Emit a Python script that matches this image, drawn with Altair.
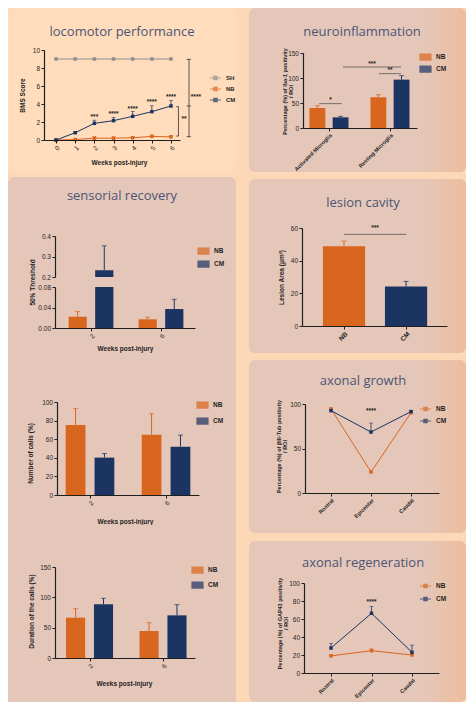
import json
import altair as alt
import pandas as pd

ORANGE = "#d8661f"
NAVY = "#1c3462"
GREY = "#8e8e8e"
PANEL = "#e5c7ba"
PANEL_EDGE = "#ecbd9c"
PAGE = "#fcd8b6"
LOCO_BG = "#fedcbc"
TITLE_C = "#4c5575"
INK = "#1e1e1e"
FONT = "Liberation Sans"
TFONT = "Open Sans"
LW, RW = 228, 217

# ---------------- data ----------------
weeks = [0, 1, 2, 3, 4, 5, 6]
bms_sh = [9, 9, 9, 9, 9, 9, 9]
bms_nb = [0.0, 0.05, 0.2, 0.2, 0.25, 0.4, 0.35]
bms_nb_err = [0.0, 0.05, 0.15, 0.15, 0.15, 0.15, 0.15]
bms_cm = [0.0, 0.81, 1.85, 2.15, 2.63, 3.15, 3.78]
bms_cm_err = [0.0, 0.1, 0.35, 0.35, 0.55, 0.65, 0.6]
bms_star_weeks = [2, 3, 4, 5, 6]
bms_star_text = ["***", "****", "****", "****", "****"]
bms_star_y = [2.6, 2.9, 3.45, 4.2, 4.8]
bms_br_x = [6.39, 6.94]
bms_br_lo = [0.44, 0.37]
bms_br_hi = [3.7, 8.96]
bms_br_text = ["**", "****"]
bms_br_tx = [6.68, 7.3]
bms_br_ty = [2.3, 4.8]
bms_br_ticks = [[0.44, 3.7], [0.37, 3.78, 8.96]]

groups = ["NB", "CM"]

micro_cats = ["Activated Microglia", "Resting Microglia"]
micro_nb = [40.0, 61.3]
micro_nb_err = [4.7, 5.4]
micro_cm = [21.3, 96.7]
micro_cm_err = [2.0, 8.0]
micro_sig_x1 = [-0.16, 0.82, 0.23]
micro_sig_x2 = [0.21, 1.18, 1.18]
micro_sig_y = [48.7, 108.7, 122.0]
micro_sig_text = ["*", "**", "***"]

sens_weeks = ["2", "6"]
thr_nb = [0.022, 0.017]
thr_nb_err = [0.010, 0.004]
thr_cm = [0.233, 0.037]
thr_cm_err = [0.119, 0.019]

calls_nb = [75.4, 64.8]
calls_nb_err = [17.5, 22.7]
calls_cm = [40.2, 52.0]
calls_cm_err = [4.3, 12.4]

dur_nb = [66.5, 44.5]
dur_nb_err = [14.8, 13.7]
dur_cm = [88.5, 70.3]
dur_cm_err = [9.9, 17.6]

lesion_cats = ["NB", "CM"]
lesion_val = [48.8, 24.2]
lesion_err = [3.2, 3.1]
lesion_sig_y = 56.1
lesion_sig_text = "***"

regions = ["Rostral", "Epicenter", "Caudal"]
tub_nb = [94.4, 23.6, 90.2]
tub_nb_err = [1.0, 2.0, 1.0]
tub_cm = [92.5, 68.5, 91.4]
tub_cm_err = [1.5, 10.0, 1.5]
tub_star = "****"
tub_star_y = 92.0

gap_nb = [19.0, 24.8, 20.0]
gap_nb_err = [1.5, 2.0, 1.5]
gap_cm = [27.8, 66.3, 23.0]
gap_cm_err = [5.0, 7.5, 8.0]
gap_star = "****"
gap_star_y = 79.0

# ---------------- helpers ----------------
def one():
    return alt.Data(values=[{"k": 0}])


GRAD = {
    "gradient": "linear", "x1": 0, "x2": 1, "y1": 0, "y2": 0,
    "stops": [
        {"offset": 0, "color": PANEL},
        {"offset": 0.8, "color": PANEL},
        {"offset": 1, "color": PANEL_EDGE},
    ],
}


def panel_rect(w, y0, y1, fill, rt=6, rb=6):
    return alt.Chart(one()).mark_rect(
        fill=fill, cornerRadiusTopLeft=rt, cornerRadiusTopRight=rt,
        cornerRadiusBottomLeft=rb, cornerRadiusBottomRight=rb,
    ).encode(x=alt.value(0), x2=alt.value(w), y=alt.value(y0), y2=alt.value(y1))


def panel_title(text, cx, cy):
    return alt.Chart(one()).mark_text(
        font=TFONT, fontSize=13, color=TITLE_C, align="center", baseline="middle"
    ).encode(x=alt.value(cx), y=alt.value(cy), text=alt.value(text))


def x_axis(values, offset, title, tx, ty, labels=None, size=6.5, bold=False):
    kw = dict(values=values, offset=offset, title=title, titleX=tx, titleY=ty,
              titleAngle=0, titleAlign="center", titleBaseline="middle",
              labelAngle=315, zindex=1, labelFlush=False, labelOverlap=False,
              labelFontSize=size, labelFontWeight="bold" if bold else "normal")
    if labels is not None:
        kw["labelExpr"] = json.dumps(labels) + "[datum.value]"
    return alt.Axis(**kw)


def y_axis(values, offset, title, tx, ty, fmt=None, tsize=6.5):
    kw = dict(values=values, offset=offset, titleX=tx, titleY=ty,
              titleAngle=270, titleAlign="center", titleBaseline="middle",
              zindex=1, labelFlush=False, labelOverlap=False, orient="left",
              titleFontSize=tsize, titleLineHeight=tsize + 1)
    kw["title"] = title
    if fmt:
        kw["format"] = fmt
    return alt.Axis(**kw)


BAR_SYM = "M-1,-0.55H1V0.55H-1Z"
LINE_SYM = "M-1,0H1M-0.3,-0.3H0.3V0.3H-0.3Z"


def legend(x, y, sym, size=121, rowpad=1, fs=6.5):
    return alt.Legend(orient="none", legendX=x, legendY=y, title=None, direction="vertical",
                      symbolType=sym, symbolSize=size, rowPadding=rowpad,
                      labelFontSize=fs, symbolStrokeWidth=1.2)


def group_scale(domain, rng):
    return alt.Scale(domain=domain, range=rng)


def bar_rows(nb, nb_err, cm, cm_err, off=0.19, hw=0.13):
    rows = []
    for g, vals, errs, s in (("NB", nb, nb_err, -1), ("CM", cm, cm_err, 1)):
        for i, (v, e) in enumerate(zip(vals, errs)):
            c = i + s * off
            rows.append(dict(g=g, xc=c, x0=c - hw, x1=c + hw, v=v, top=v + e, base=0.0))
    return pd.DataFrame(rows)


def bar_layers(df, xs, xa, ys, ya, cs, lg, base_col="base"):
    col = alt.Color("g:N", scale=cs, legend=lg)
    bars = alt.Chart(df).mark_bar().encode(
        x=alt.X("x0:Q", scale=xs, axis=xa), x2="x1:Q",
        y=alt.Y("v:Q", scale=ys, axis=ya), y2=alt.Y2(base_col + ":Q"), color=col)
    err = alt.Chart(df).mark_rule(strokeWidth=1).encode(
        x=alt.X("xc:Q", scale=xs, axis=xa), y=alt.Y("v:Q", scale=ys, axis=ya),
        y2="top:Q", color=col)
    cap = alt.Chart(df).mark_tick(orient="horizontal", size=5, thickness=1).encode(
        x=alt.X("xc:Q", scale=xs, axis=xa), y=alt.Y("top:Q", scale=ys, axis=ya), color=col)
    return [bars, err, cap]


def line_rows(nb, nb_err, cm, cm_err):
    rows = []
    for g, vals, errs in (("NB", nb, nb_err), ("CM", cm, cm_err)):
        for i, (v, e) in enumerate(zip(vals, errs)):
            rows.append(dict(g=g, x=i, v=v, top=v + e))
    return pd.DataFrame(rows)


def line_layers(df, xs, xa, ys, ya, cs, lg):
    col = alt.Color("g:N", scale=cs, legend=lg)
    X = alt.X("x:Q", scale=xs, axis=xa)
    line = alt.Chart(df).mark_line(strokeWidth=1).encode(x=X, y=alt.Y("v:Q", scale=ys, axis=ya), color=col)
    err = alt.Chart(df).mark_rule(strokeWidth=0.8).encode(x=X, y=alt.Y("v:Q", scale=ys, axis=ya), y2="top:Q", color=col)
    cap = alt.Chart(df).mark_tick(orient="horizontal", size=4, thickness=0.8).encode(
        x=X, y=alt.Y("top:Q", scale=ys, axis=ya), color=col)
    pts = alt.Chart(df).mark_point(shape="square", filled=True, size=12, opacity=1).encode(
        x=X, y=alt.Y("v:Q", scale=ys, axis=ya), color=col)
    return [line, err, cap, pts]


def star_text(df, xs, xa, ys, ya, size=7):
    return alt.Chart(df).mark_text(font=FONT, fontSize=size, fontWeight="bold", color=INK,
                                   baseline="middle").encode(
        x=alt.X("x:Q", scale=xs, axis=xa), y=alt.Y("y:Q", scale=ys, axis=ya), text="t:N")


def qs(domain, rng):
    return alt.Scale(domain=domain, range=rng, nice=False, zero=False)


NBCM = group_scale(groups, [ORANGE, NAVY])

# ---------------- locomotor performance ----------------
H = 169
xs = qs([-0.63, 6.47], [36, 172])
ys = qs([0, 10], [132, 42])
xa = x_axis(weeks, 132 - H, "Weeks post-injury", 111, 22)
ya = y_axis([0, 2, 4, 6, 8, 10], -36, "BMS Score", -22, 87)
rows = []
for g, vals, errs in (("SH", bms_sh, [0] * 7), ("NB", bms_nb, bms_nb_err), ("CM", bms_cm, bms_cm_err)):
    for w, v, e in zip(weeks, vals, errs):
        rows.append(dict(g=g, x=w, v=v, top=v + e))
loco_df = pd.DataFrame(rows)
loco_cs = group_scale(["SH", "NB", "CM"], [GREY, ORANGE, NAVY])
loco_lg = legend(201, 63.5, LINE_SYM, size=121, rowpad=0, fs=6)
loco_layers = line_layers(loco_df, xs, xa, ys, ya, loco_cs, loco_lg)
stars = pd.DataFrame(dict(x=bms_star_weeks, y=bms_star_y, t=bms_star_text))
br_v = pd.DataFrame(dict(x=bms_br_x, y=bms_br_lo, y2=bms_br_hi))
tk = []
for bx, ticks in zip(bms_br_x, bms_br_ticks):
    for ty in ticks:
        tk.append(dict(x=bx - 0.12, x2=bx + (0.1 if bx > 6.5 else 0), y=ty))
br_t = pd.DataFrame(tk)
br_l = pd.DataFrame(dict(x=bms_br_tx, y=bms_br_ty, t=bms_br_text))
loco = alt.layer(
    panel_rect(LW, 0, 164, LOCO_BG),
    panel_title("locomotor performance", 114, 24),
    *loco_layers,
    star_text(stars, xs, xa, ys, ya, 6.5),
    alt.Chart(br_v).mark_rule(color="#333", strokeWidth=0.8).encode(
        x=alt.X("x:Q", scale=xs, axis=xa), y=alt.Y("y:Q", scale=ys, axis=ya), y2="y2:Q"),
    alt.Chart(br_t).mark_rule(color="#333", strokeWidth=0.8).encode(
        x=alt.X("x:Q", scale=xs, axis=xa), x2="x2:Q", y=alt.Y("y:Q", scale=ys, axis=ya)),
    star_text(br_l, xs, xa, ys, ya, 6.5),
).properties(width=LW, height=H)

# ---------------- sensorial recovery: threshold (broken axis) ----------------
H = 176
xs = qs([-0.514, 1.486], [47, 187])
ys_b = qs([0, 0.08], [151, 110])
ys_t = qs([0.2, 0.4], [100, 59])
xa = x_axis([0, 1], 151 - H, "Weeks post-injury", 117, 20, labels=sens_weeks)
ya_b = y_axis([0, 0.04, 0.08], -47, "50% Threshold", -23, 105, fmt=".2f")
ya_t = y_axis([0.2, 0.3, 0.4], -47, None, -23, 105, fmt=".1f")
thr = bar_rows(thr_nb, thr_nb_err, thr_cm, thr_cm_err)
thr_b = thr.copy()
thr_b["v"] = thr_b["v"].clip(upper=0.08)
thr_b_err = thr_b[thr["top"] <= 0.08]
thr_t = thr[thr["v"] > 0.2].copy()
thr_t["base"] = 0.2
s1_lg = legend(189, 67.5, BAR_SYM, rowpad=1)
col = alt.Color("g:N", scale=NBCM, legend=s1_lg)
bottom = alt.layer(
    alt.Chart(thr_b).mark_bar().encode(
        x=alt.X("x0:Q", scale=xs, axis=xa), x2="x1:Q",
        y=alt.Y("v:Q", scale=ys_b, axis=ya_b), y2="base:Q", color=col),
    alt.Chart(thr_b_err).mark_rule(strokeWidth=1).encode(
        x=alt.X("xc:Q", scale=xs, axis=xa), y=alt.Y("v:Q", scale=ys_b, axis=ya_b), y2="top:Q", color=col),
    alt.Chart(thr_b_err).mark_tick(orient="horizontal", size=5, thickness=1).encode(
        x=alt.X("xc:Q", scale=xs, axis=xa), y=alt.Y("top:Q", scale=ys_b, axis=ya_b), color=col),
)
top = alt.layer(
    alt.Chart(thr_t).mark_bar().encode(
        x=alt.X("x0:Q", scale=xs, axis=xa), x2="x1:Q",
        y=alt.Y("v:Q", scale=ys_t, axis=ya_t), y2="base:Q", color=col),
    alt.Chart(thr_t).mark_rule(strokeWidth=1).encode(
        x=alt.X("xc:Q", scale=xs, axis=xa), y=alt.Y("v:Q", scale=ys_t, axis=ya_t), y2="top:Q", color=col),
    alt.Chart(thr_t).mark_tick(orient="horizontal", size=5, thickness=1).encode(
        x=alt.X("xc:Q", scale=xs, axis=xa), y=alt.Y("top:Q", scale=ys_t, axis=ya_t), color=col),
)
s1 = alt.layer(
    panel_rect(LW, 0, H, PANEL, rt=6, rb=0),
    panel_title("sensorial recovery", 114, 19),
    bottom, top,
).resolve_scale(y="independent").properties(width=LW, height=H)

# ---------------- number of calls ----------------
H = 172
xs = qs([-0.434, 1.434], [49, 191])
ys = qs([0, 100], [142, 49])
xa = x_axis([0, 1], 142 - H, "Weeks post-injury", 117, 26, labels=sens_weeks)
ya = y_axis([0, 20, 40, 60, 80, 100], -49, "Number of calls (%)", -27, 100)
s2 = alt.layer(
    panel_rect(LW, 0, H, PANEL, rt=0, rb=0),
    *bar_layers(bar_rows(calls_nb, calls_nb_err, calls_cm, calls_cm_err), xs, xa, ys, ya,
                NBCM, legend(188, 45.5, BAR_SYM, rowpad=4)),
).properties(width=LW, height=H)

# ---------------- duration of calls ----------------
H = 177
xs = qs([-0.47, 1.435], [47, 187])
ys = qs([0, 150], [133, 42])
xa = x_axis([0, 1], 133 - H, "Weeks post-injury", 116, 25, labels=sens_weeks)
ya = y_axis([0, 50, 100, 150], -47, "Duration of the calls (%)", -24, 86)
s3 = alt.layer(
    panel_rect(LW, 0, H, PANEL, rt=0, rb=0),
    *bar_layers(bar_rows(dur_nb, dur_nb_err, dur_cm, dur_cm_err), xs, xa, ys, ya,
                NBCM, legend(183, 38.5, BAR_SYM, rowpad=3)),
).properties(width=LW, height=H)

# ---------------- neuroinflammation ----------------
H = 168
xs = qs([-0.426, 1.443], [54, 168])
ys = qs([0, 150], [120, 45])
xa = x_axis([0, 1], 120 - H, None, 0, 0, labels=micro_cats, size=5.5, bold=True)
ya = y_axis([0, 50, 100, 150], -54, ["Percentage (%) of Iba-1 positivity", "/ ROI"], -19, 83, tsize=5.5)
sig = pd.DataFrame(dict(x=micro_sig_x1, x2=micro_sig_x2, y=micro_sig_y, t=micro_sig_text))
sig["xm"] = (sig["x"] + sig["x2"]) / 2
sig["ty"] = sig["y"] + 7
neuro = alt.layer(
    panel_rect(RW, 0, 164, GRAD, rt=6, rb=6),
    panel_title("neuroinflammation", 113, 24),
    *bar_layers(bar_rows(micro_nb, micro_nb_err, micro_cm, micro_cm_err), xs, xa, ys, ya,
                NBCM, legend(170, 42.5, BAR_SYM, rowpad=0)),
    alt.Chart(sig).mark_rule(color="#555", strokeWidth=0.8).encode(
        x=alt.X("x:Q", scale=xs, axis=xa), x2="x2:Q", y=alt.Y("y:Q", scale=ys, axis=ya)),
    alt.Chart(sig).mark_text(font=FONT, fontSize=6.5, fontWeight="bold", color=INK, baseline="middle").encode(
        x=alt.X("xm:Q", scale=xs, axis=xa), y=alt.Y("ty:Q", scale=ys, axis=ya), text="t:N"),
).properties(width=RW, height=H)

# ---------------- lesion cavity ----------------
H = 179
xs = qs([-0.677, 1.66], [53, 198])
ys = qs([0, 60], [150, 52])
xa = x_axis([0, 1], 150 - H, None, 0, 0, labels=lesion_cats, size=6.5, bold=True)
ya = y_axis([0, 20, 40, 60], -53, "Lesion Area (μm²)", -21, 101)
les = pd.DataFrame(dict(g=lesion_cats, xc=[0, 1], v=lesion_val))
les["x0"] = les["xc"] - 0.34
les["x1"] = les["xc"] + 0.34
les["top"] = les["v"] + pd.Series(lesion_err)
les["base"] = 0.0
les_sig = pd.DataFrame(dict(x=[0], x2=[1], y=[lesion_sig_y], xm=[0.5], ty=[lesion_sig_y + 3.7], t=[lesion_sig_text]))
les_layers = bar_layers(les, xs, xa, ys, ya, NBCM, None)
lesion = alt.layer(
    panel_rect(RW, 3, 177, GRAD),
    panel_title("lesion cavity", 114, 27),
    *les_layers,
    alt.Chart(les_sig).mark_rule(color="#555", strokeWidth=0.8).encode(
        x=alt.X("x:Q", scale=xs, axis=xa), x2="x2:Q", y=alt.Y("y:Q", scale=ys, axis=ya)),
    alt.Chart(les_sig).mark_text(font=FONT, fontSize=6.5, fontWeight="bold", color=INK, baseline="middle").encode(
        x=alt.X("xm:Q", scale=xs, axis=xa), y=alt.Y("ty:Q", scale=ys, axis=ya), text="t:N"),
).properties(width=RW, height=H)

# ---------------- axonal growth ----------------
H = 180
xs = qs([-0.65, 2.7], [56, 190])
ys = qs([0, 100], [138, 49])
xa = x_axis([0, 1, 2], 138 - H, None, 0, 0, labels=regions, size=5.5, bold=True)
ya = y_axis([0, 50, 100], -56, ["Percentage (%) of βIII-Tub positivity", "/ ROI"], -27, 91, tsize=5.5)
g_star = pd.DataFrame(dict(x=[1], y=[tub_star_y], t=[tub_star]))
growth = alt.layer(
    panel_rect(RW, 5, 178, GRAD),
    panel_title("axonal growth", 114, 26),
    *line_layers(line_rows(tub_nb, tub_nb_err, tub_cm, tub_cm_err), xs, xa, ys, ya,
                 NBCM, legend(170, 47.5, LINE_SYM, rowpad=1)),
    star_text(g_star, xs, xa, ys, ya, 6.5),
).properties(width=RW, height=H)

# ---------------- axonal regeneration ----------------
H = 167
xs = qs([-0.667, 2.667], [55, 190])
ys = qs([0, 100], [138, 48])
xa = x_axis([0, 1, 2], 138 - H, None, 0, 0, labels=regions, size=5.5, bold=True)
ya = y_axis([0, 20, 40, 60, 80, 100], -55, ["Percentage (%) of GAP43 positivity", "/ ROI"], -25, 88, tsize=5.5)
r_star = pd.DataFrame(dict(x=[1], y=[gap_star_y], t=[gap_star]))
regen = alt.layer(
    panel_rect(RW, 6, 167, GRAD),
    panel_title("axonal regeneration", 114, 28),
    *line_layers(line_rows(gap_nb, gap_nb_err, gap_cm, gap_cm_err), xs, xa, ys, ya,
                 NBCM, legend(170, 44.5, LINE_SYM, rowpad=2)),
    star_text(r_star, xs, xa, ys, ya, 6.5),
).properties(width=RW, height=H)

left = alt.vconcat(loco, s1, s2, s3, spacing=0).resolve_scale(color="independent").resolve_legend(color="independent")
right = alt.vconcat(neuro, lesion, growth, regen, spacing=0).resolve_scale(color="independent").resolve_legend(color="independent")
chart = alt.hconcat(left, right, spacing=13).resolve_scale(color="independent").resolve_legend(
    color="independent"
).properties(padding=0, background=PAGE).configure_view(strokeWidth=0).configure_axis(
    domainColor=INK, domainWidth=1.2, tickColor=INK, tickWidth=1, tickSize=3,
    labelFont=FONT, labelFontSize=6.5, labelColor=INK, labelPadding=1.5,
    titleFont=FONT, titleFontSize=6.5, titleFontWeight="bold", titleColor=INK, grid=False,
).configure_legend(
    labelFont=FONT, labelFontWeight="bold", labelColor=INK, padding=0, labelOffset=4,
)

chart.save("out.html", embed_options={"renderer": "svg", "actions": False})
